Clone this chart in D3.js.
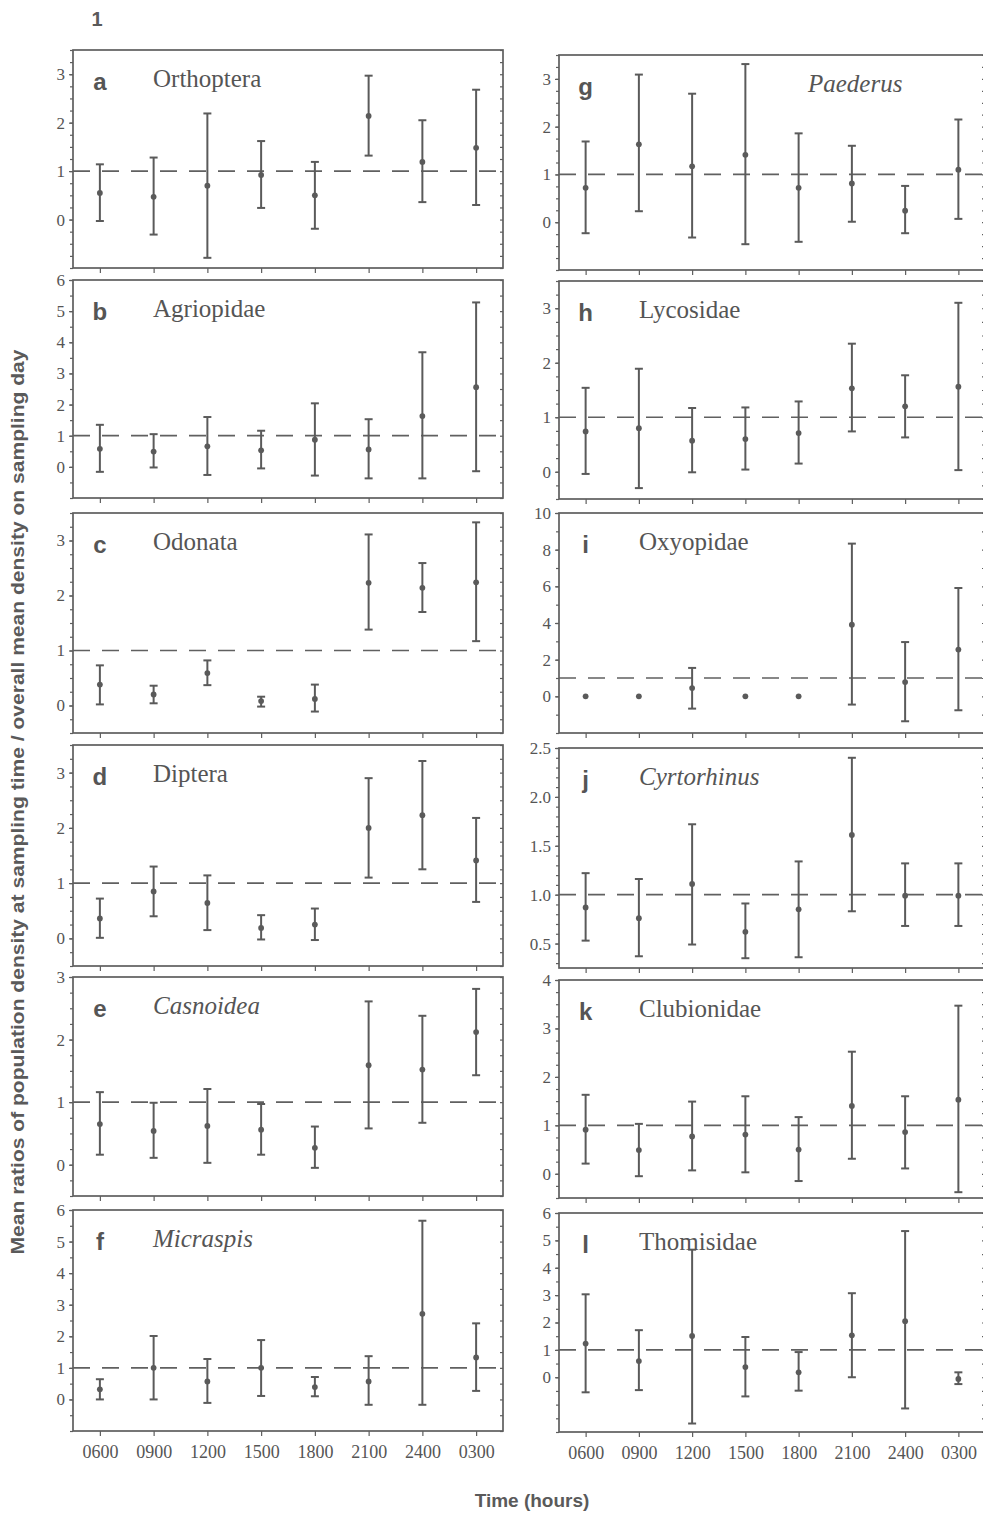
<!DOCTYPE html>
<html>
<head>
<meta charset='utf-8' />
<title>Density ratios by sampling time</title>
<style>
  html, body { margin:0; padding:0; background:#fff; }
  body { width:983px; height:1517px; overflow:hidden; }
  svg { display:block; }
  .frame { fill:none; stroke:#5e5e5e; stroke-width:1.7; }
  .ref-line { stroke:#606060; stroke-width:1.7; stroke-dasharray:17,12; fill:none; }
  .err { stroke:#5a5a5a; stroke-width:2; }
  .dot { fill:#5a5a5a; }
  .axis path { display:none; }
  .axis line { stroke:#5e5e5e; stroke-width:1.2; }
  .axis text { font-family:'Liberation Serif', serif; font-size:17px; fill:#555; }
  .x-axis text { font-size:18px; }
  .panel-letter { font-family:'Liberation Sans', Arial, sans-serif; font-weight:bold; font-size:24px; fill:#555; }
  .panel-name { font-family:'Liberation Serif', serif; font-size:25px; fill:#555; }
  .title { font-family:'Liberation Sans', Arial, sans-serif; font-weight:bold; fill:#5a5a5a; }
</style>
</head>
<body>
<svg id="chart" width="983" height="1517"></svg>
<script src="https://d3js.org/d3.v7.min.js"></script>
<script>
const times = ['0600', '0900', '1200', '1500', '1800', '2100', '2400', '0300']

// each point: [mean, lower, upper]   (null = no error bar)
const orthoptera = [[0.55, -0.03, 1.14], [0.47, -0.31, 1.28], [0.70, -0.79, 2.19], [0.92, 0.24, 1.62],
  [0.50, -0.19, 1.19], [2.14, 1.32, 2.97], [1.19, 0.36, 2.05], [1.48, 0.30, 2.68]]
const agriopidae = [[0.58, -0.16, 1.35], [0.49, -0.02, 1.05], [0.66, -0.26, 1.60], [0.53, -0.05, 1.16],
  [0.87, -0.28, 2.04], [0.56, -0.37, 1.53], [1.63, -0.37, 3.68], [2.56, -0.14, 5.28]]
const odonata = [[0.38, 0.02, 0.73], [0.20, 0.04, 0.36], [0.59, 0.37, 0.82], [0.08, -0.02, 0.16],
  [0.12, -0.11, 0.38], [2.23, 1.38, 3.11], [2.14, 1.70, 2.59], [2.24, 1.17, 3.33]]
const diptera = [[0.36, 0.01, 0.72], [0.85, 0.40, 1.30], [0.64, 0.15, 1.14], [0.19, -0.02, 0.42],
  [0.25, -0.03, 0.54], [2.00, 1.10, 2.90], [2.23, 1.25, 3.21], [1.41, 0.66, 2.18]]
const casnoidea = [[0.65, 0.16, 1.16], [0.54, 0.11, 0.99], [0.62, 0.03, 1.21], [0.56, 0.16, 0.97],
  [0.27, -0.05, 0.61], [1.59, 0.58, 2.61], [1.52, 0.67, 2.38], [2.12, 1.43, 2.81]]
const micraspis = [[0.32, 0.00, 0.64], [1.00, 0.00, 2.01], [0.57, -0.11, 1.28], [1.00, 0.11, 1.88],
  [0.39, 0.10, 0.71], [0.57, -0.17, 1.37], [2.71, -0.17, 5.66], [1.33, 0.27, 2.41]]
const paederus = [[0.72, -0.23, 1.69], [1.63, 0.23, 3.09], [1.17, -0.32, 2.69], [1.41, -0.46, 3.31],
  [0.72, -0.41, 1.86], [0.81, 0.01, 1.60], [0.24, -0.23, 0.76], [1.10, 0.07, 2.15]]
const lycosidae = [[0.74, -0.04, 1.54], [0.80, -0.30, 1.89], [0.57, -0.01, 1.17], [0.60, 0.04, 1.18],
  [0.71, 0.15, 1.29], [1.53, 0.74, 2.35], [1.20, 0.63, 1.77], [1.56, 0.03, 3.10]]
const oxyopidae = [[0, null, null], [0, null, null], [0.45, -0.67, 1.55], [0, null, null],
  [0, null, null], [3.91, -0.45, 8.33], [0.78, -1.36, 2.96], [2.55, -0.76, 5.91]]
const cyrtorhinus = [[0.87, 0.53, 1.22], [0.76, 0.37, 1.16], [1.11, 0.49, 1.72], [0.62, 0.35, 0.91],
  [0.85, 0.36, 1.34], [1.61, 0.83, 2.40], [0.99, 0.68, 1.32], [0.99, 0.68, 1.32]]
const clubionidae = [[0.91, 0.21, 1.63], [0.49, -0.05, 1.03], [0.77, 0.07, 1.49], [0.81, 0.03, 1.60],
  [0.50, -0.15, 1.17], [1.40, 0.31, 2.52], [0.86, 0.11, 1.60], [1.53, -0.38, 3.47]]
const thomisidae = [[1.23, -0.55, 3.03], [0.59, -0.47, 1.72], [1.51, -1.69, 4.66], [0.37, -0.70, 1.47],
  [0.18, -0.49, 0.92], [1.53, 0.00, 3.07], [2.05, -1.14, 5.34], [-0.06, -0.25, 0.18]]

const panelLetters = ['a', 'b', 'c', 'd', 'e', 'f', 'g', 'h', 'i', 'j', 'k', 'l']
const panelNames = ['Orthoptera', 'Agriopidae', 'Odonata', 'Diptera', 'Casnoidea', 'Micraspis',
  'Paederus', 'Lycosidae', 'Oxyopidae', 'Cyrtorhinus', 'Clubionidae', 'Thomisidae']
const italicNames = ['Casnoidea', 'Micraspis', 'Paederus', 'Cyrtorhinus']
const panelData = [orthoptera, agriopidae, odonata, diptera, casnoidea, micraspis,
  paederus, lycosidae, oxyopidae, cyrtorhinus, clubionidae, thomisidae]
const yDomains = [[-1, 3.5], [-1, 6], [-0.5, 3.5], [-0.5, 3.5], [-0.5, 3], [-1, 6],
  [-1, 3.5], [-0.5, 3.5], [-2, 10], [0.25, 2.5], [-0.5, 4], [-2, 6]]
const yTickLabels = [[0, 1, 2, 3], [0, 1, 2, 3, 4, 5, 6], [0, 1, 2, 3], [0, 1, 2, 3], [0, 1, 2, 3], [0, 1, 2, 3, 4, 5, 6],
  [0, 1, 2, 3], [0, 1, 2, 3], [0, 2, 4, 6, 8, 10], [0.5, 1.0, 1.5, 2.0, 2.5], [0, 1, 2, 3, 4], [0, 1, 2, 3, 4, 5, 6]]
const yMinorStep = [0.25, 0.5, 0.25, 0.25, 0.25, 0.5, 0.25, 0.25, 1, 0.1, 0.25, 0.5]
const referenceValue = 1

const yTitle = 'Mean ratios of population density at sampling time / overall mean density on sampling day'
const xTitle = 'Time (hours)'

// page layout (pixels)
const columns = [[73, 503], [559, 985]]
const rows = [
  [[50, 268], [280, 498], [513, 733], [745, 966], [977, 1196], [1210, 1431]],
  [[55, 270], [281, 499], [513, 733], [748, 968], [980, 1198], [1213, 1432]]
]

const svg = d3.select('#chart')

svg.append('text').attr('class', 'title')
  .attr('x', 97).attr('y', 26).attr('text-anchor', 'middle')
  .style('font-size', '20px').text('1')

svg.append('text').attr('class', 'title')
  .attr('transform', 'translate(24,802) rotate(-90)')
  .attr('text-anchor', 'middle')
  .attr('textLength', 905).attr('lengthAdjust', 'spacingAndGlyphs')
  .style('font-size', '18px').text(yTitle)

svg.append('text').attr('class', 'title')
  .attr('x', 532).attr('y', 1507).attr('text-anchor', 'middle')
  .style('font-size', '19px').text(xTitle)

const drawPanel = (i) => {
  const col = i < 6 ? 0 : 1
  const [top, bottom] = rows[col][i % 6]
  const [left, right] = columns[col]
  const data = panelData[i]

  const x = d3.scalePoint().domain(times).range([left, right]).padding(0.5)
  const y = d3.scaleLinear().domain(yDomains[i]).range([bottom, top])

  const g = svg.append('g').attr('class', 'panel')

  // minor ticks on both vertical spines
  const [d0, d1] = yDomains[i]
  const minor = d3.range(Math.ceil(d0 / yMinorStep[i]), Math.floor(d1 / yMinorStep[i]) + 1)
    .map(k => +(k * yMinorStep[i]).toFixed(3))
  g.append('g').attr('class', 'axis')
    .attr('transform', `translate(${left},0)`)
    .call(d3.axisLeft(y).tickValues(minor).tickSize(3).tickFormat(''))
  g.append('g').attr('class', 'axis')
    .attr('transform', `translate(${right},0)`)
    .call(d3.axisRight(y).tickValues(minor).tickSize(-3).tickFormat(''))

  const fmt = i === 9 ? d3.format('.1f') : d3.format('d')
  g.append('g').attr('class', 'axis')
    .attr('transform', `translate(${left},0)`)
    .call(d3.axisLeft(y).tickValues(yTickLabels[i]).tickSize(4).tickPadding(4).tickFormat(fmt))

  const xAxis = d3.axisBottom(x).tickSize(5)
  if (i % 6 !== 5) xAxis.tickFormat('')
  else xAxis.tickPadding(9)
  g.append('g').attr('class', 'axis x-axis')
    .attr('transform', `translate(0,${bottom})`)
    .call(xAxis)

  g.append('rect').attr('class', 'frame')
    .attr('x', left).attr('y', top)
    .attr('width', right - left).attr('height', bottom - top)

  g.append('line').attr('class', 'ref-line')
    .attr('x1', left).attr('x2', right)
    .attr('y1', y(referenceValue)).attr('y2', y(referenceValue))

  const pts = g.selectAll('.pt').data(data).enter().append('g').attr('class', 'pt')
  pts.each(function (d, k) {
    if (d[1] === null) return
    const cx = x(times[k])
    const sel = d3.select(this)
    sel.append('line').attr('class', 'err')
      .attr('x1', cx).attr('x2', cx)
      .attr('y1', y(d[1])).attr('y2', y(d[2]))
    ;[d[1], d[2]].forEach(v => {
      sel.append('line').attr('class', 'err')
        .attr('x1', cx - 4).attr('x2', cx + 4)
        .attr('y1', y(v)).attr('y2', y(v))
    })
  })
  pts.append('circle').attr('class', 'dot')
    .attr('cx', (d, k) => x(times[k]))
    .attr('cy', d => y(d[0]))
    .attr('r', 2.9)

  g.append('text').attr('class', 'panel-letter')
    .attr('x', x(times[0])).attr('y', top + 40)
    .attr('text-anchor', 'middle')
    .text(panelLetters[i])

  const name = panelNames[i]
  const nameX = i === 6 ? left + 249 : left + 80
  g.append('text').attr('class', 'panel-name')
    .attr('x', nameX).attr('y', top + 37)
    .style('font-style', italicNames.includes(name) ? 'italic' : 'normal')
    .text(name)
}

panelData.forEach((d, i) => drawPanel(i))
</script>
</body>
</html>
